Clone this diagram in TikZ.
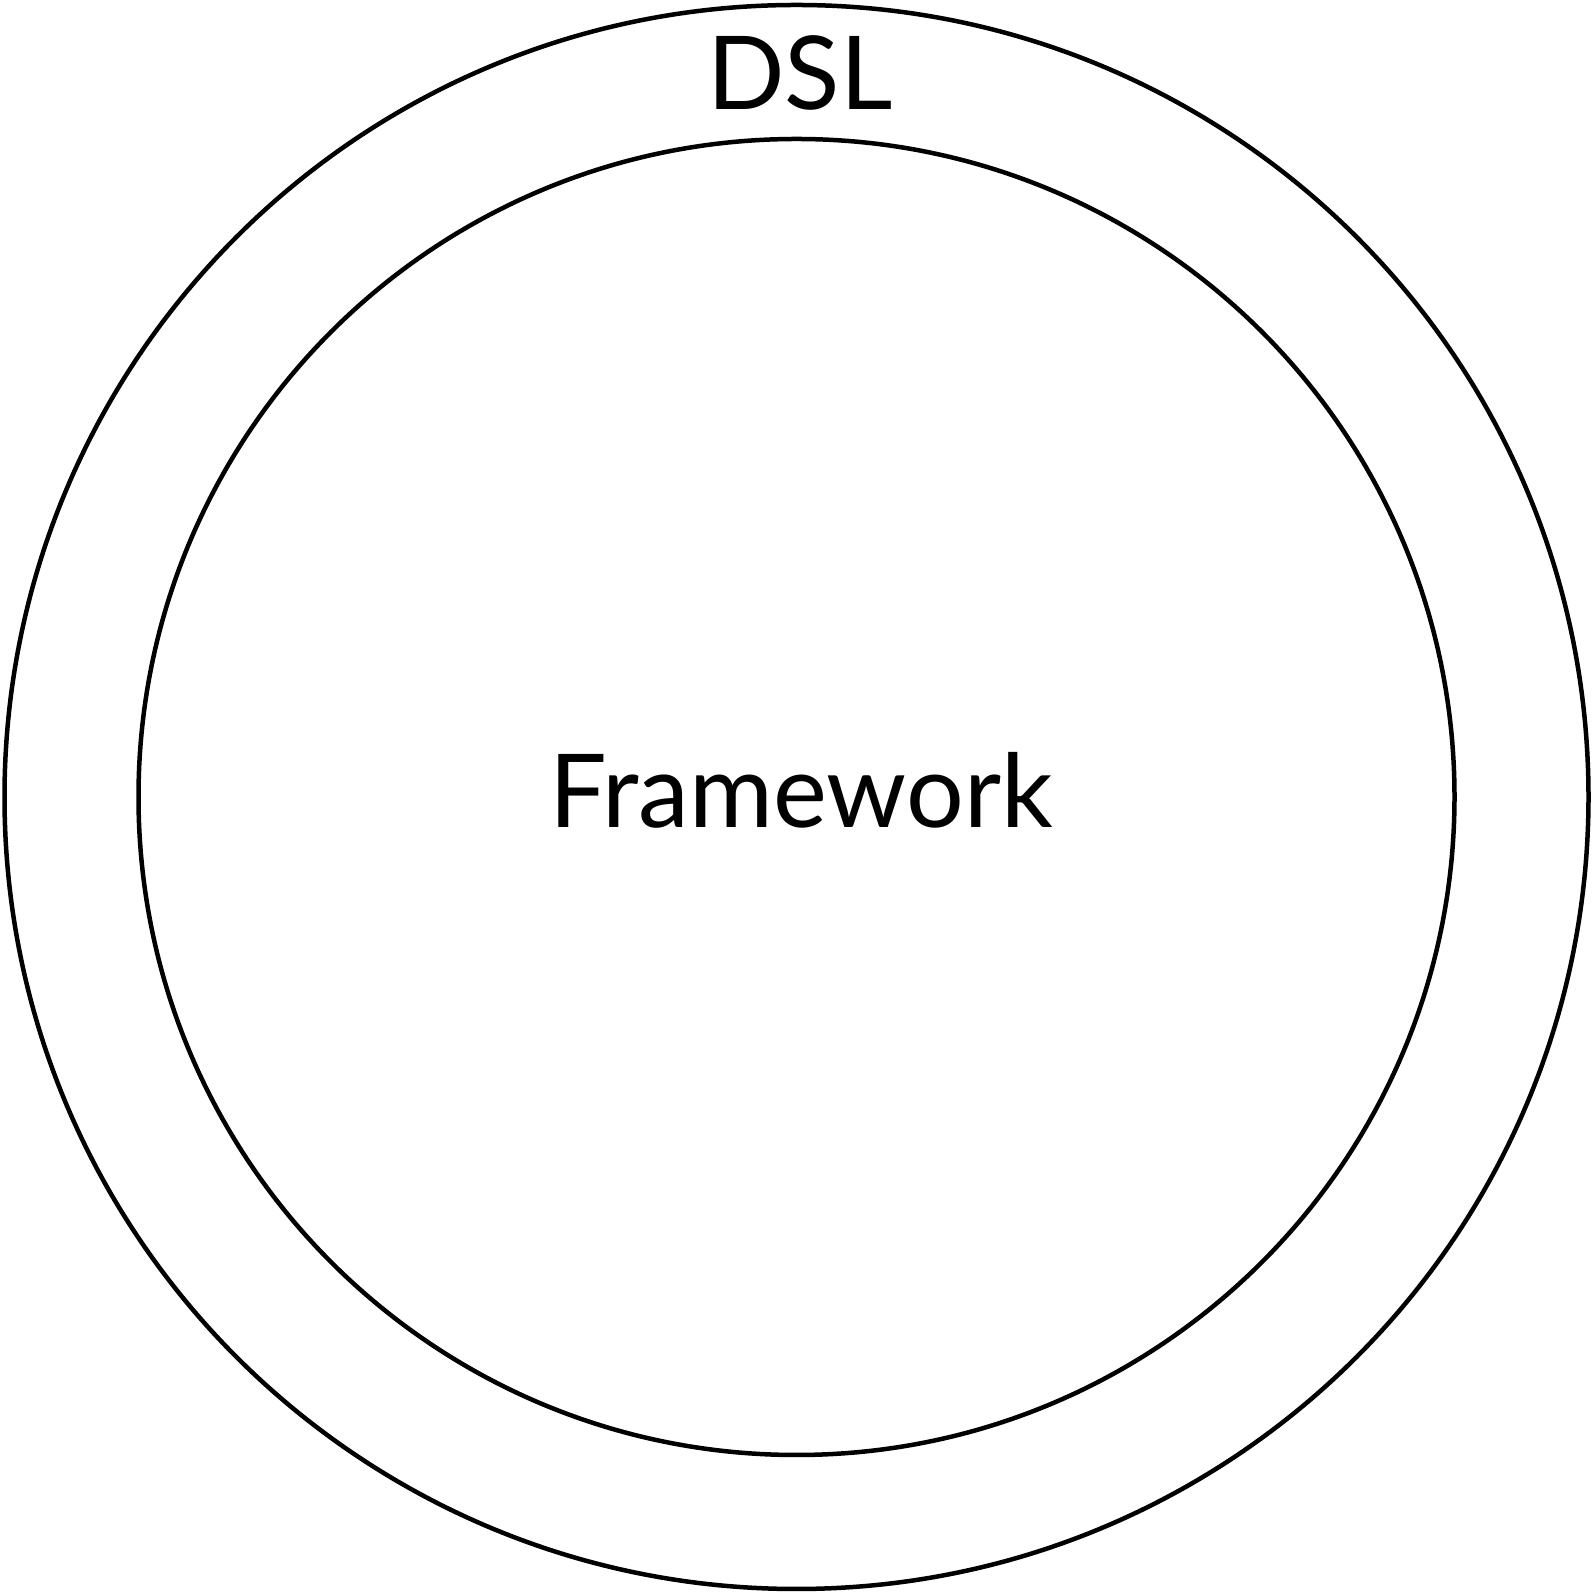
\documentclass[tikz,border=0pt]{standalone}
\usepackage{fontspec}
\setmainfont{Lato}
\begin{document}
\begin{tikzpicture}
[x=1pt,y=1pt,%
  ringDecorate/.style={shape=circle,inner sep=0pt,draw,line width=4.5pt},%
  labelDecorate/.style={inner sep=0pt,anchor=base,font=\fontsize{102}{120}\selectfont}]
\useasboundingbox (0,0) rectangle (1593,1592);
%% rings
\foreach \ringname/\diam in {outer/1584, inner/1316}
{
  \node (\ringname) at (796.5,795) [ringDecorate,minimum size=\diam pt] {};
}
%% labels
\node (dsl) at (800,1482) [labelDecorate] {DSL};
\node (framework) at (801,764) [labelDecorate] {Framework};
\end{tikzpicture}
\end{document}
